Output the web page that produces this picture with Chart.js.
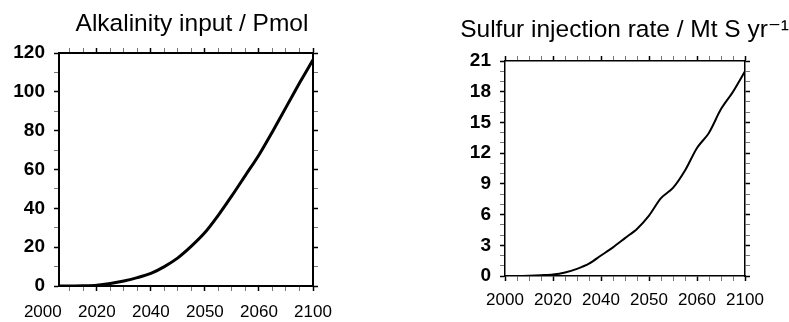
<!DOCTYPE html>
<html>
<head>
<meta charset="utf-8">
<script src="https://cdn.jsdelivr.net/npm/chart.js@4.4.0/dist/chart.umd.min.js"></script>
<style>
  html, body { margin: 0; padding: 0; background: #fff; }
  #page { position: relative; width: 789px; height: 322px; overflow: hidden; }
  .panel { position: absolute; top: 0; height: 322px; }
  #left-panel { left: 0; width: 384px; }
  #right-panel { left: 384px; width: 405px; }
</style>
</head>
<body>
<div id="page">
  <div class="panel" id="left-panel"><canvas id="alkChart"></canvas></div>
  <div class="panel" id="right-panel"><canvas id="sulfurChart"></canvas></div>
</div>
<script>
// x axis ticks (labels as printed on the figure)
const xTickValues = [2000, 2020, 2040, 2060, 2080, 2100];
const xTickLabels = ['2000', '2020', '2040', '2050', '2060', '2100'];

// left panel: alkalinity input (Pmol)
const alkYears = [2006, 2010, 2015, 2020, 2025, 2030, 2035, 2040, 2045, 2050, 2055,
                  2060, 2065, 2070, 2075, 2080, 2085, 2090, 2095, 2100];
const alkValues = [0, 0, 0.1, 0.4, 1.3, 2.6, 4.3, 6.5, 10, 14.5, 20.5,
                   27.5, 36.5, 46.5, 57, 67.5, 79.5, 92, 104.5, 116.5];
const alkYTicks = [0, 20, 40, 60, 80, 100, 120];

// right panel: sulfur injection rate (Mt S / yr)
const sulfurYears = [2000, 2005, 2010, 2015, 2020, 2025, 2030, 2035, 2040, 2045, 2050,
                     2055, 2060, 2065, 2070, 2075, 2080, 2085, 2090, 2095, 2100];
const sulfurValues = [0, 0, 0.03, 0.08, 0.15, 0.35, 0.7, 1.2, 2.0, 2.8, 3.7,
                      4.6, 5.9, 7.6, 8.6, 10.3, 12.5, 14.0, 16.3, 18.0, 20.0];
const sulfurYTicks = [0, 3, 6, 9, 12, 15, 18, 21];

const FONT = "'Liberation Sans', Arial, 'DejaVu Sans', sans-serif";

// majors + minor ticks every minorStep inside the range
function tickBuilder(majors, minorStep) {
    return function(scale) {
        const vals = [];
        for (let v = Math.ceil(scale.min / minorStep) * minorStep; v <= scale.max + 1e-9; v += minorStep) {
            vals.push(Math.round(v * 1000) / 1000);
        }
        majors.forEach(m => { if (!vals.includes(m)) vals.push(m); });
        vals.sort((a, b) => a - b);
        scale.ticks = vals.map(v => ({ value: v, major: majors.includes(v) }));
    };
}

function tickColor(ctx) {
    const s = ctx.scale;
    if (ctx.tick.value < s.min - 1e-9 || ctx.tick.value > s.max + 1e-9) return 'rgba(0,0,0,0)';
    return ctx.tick.major ? '#000' : '#777';
}

function axis(opts) {
    return {
        type: 'linear',
        position: opts.position,
        min: opts.min,
        max: opts.max,
        border: { display: true, color: '#000', width: opts.frame },
        grid: {
            drawOnChartArea: false,
            drawTicks: true,
            tickLength: 5,
            tickColor: tickColor,
            tickWidth: ctx => ctx.tick.major ? 1.5 : 1
        },
        ticks: {
            autoSkip: false,
            maxRotation: 0,
            padding: opts.padding || 0,
            color: '#000',
            font: opts.font || { family: FONT, size: 17 },
            callback: opts.callback || (() => '')
        },
        afterBuildTicks: tickBuilder(opts.majors, opts.minorStep),
        afterFit: function(scale) {
            if (opts.width !== undefined) scale.width = opts.width;
            if (opts.height !== undefined) scale.height = opts.height;
        }
    };
}

function makeChart(canvasId, cfg) {
    const points = cfg.years.map((yr, i) => ({ x: yr, y: cfg.values[i] }));
    const xLabel = (value) => {
        const i = xTickValues.indexOf(value);
        return i >= 0 ? xTickLabels[i] : '';
    };
    const yLabel = (value) => cfg.yTicks.includes(value) ? String(value) : '';

    return new Chart(document.getElementById(canvasId), {
        type: 'line',
        data: {
            datasets: [{
                data: points,
                borderColor: '#000',
                borderWidth: cfg.lineWidth,
                pointRadius: 0,
                tension: 0.3,
                xAxisID: 'x',
                yAxisID: 'y'
            }]
        },
        options: {
            responsive: true,
            maintainAspectRatio: false,
            animation: false,
            layout: { padding: 0 },
            plugins: {
                legend: { display: false },
                tooltip: { enabled: false },
                title: {
                    display: true,
                    text: cfg.title,
                    align: cfg.titleAlign,
                    color: '#000',
                    font: { family: FONT, size: 24.5, weight: 'normal' },
                    padding: { top: cfg.titleTop, bottom: 0 }
                }
            },
            scales: {
                x: axis({ position: 'bottom', min: cfg.xMin, max: 2100, frame: cfg.frame,
                          majors: xTickValues, minorStep: 5, callback: xLabel,
                          padding: cfg.xPad, height: cfg.bottomH }),
                x2: axis({ position: 'top', min: cfg.xMin, max: 2100, frame: cfg.frame,
                           majors: xTickValues, minorStep: 5, height: cfg.topH }),
                y: axis({ position: 'left', min: 0, max: cfg.yMax, frame: cfg.frame,
                          majors: cfg.yTicks, minorStep: cfg.yMinor, callback: yLabel,
                          padding: 9, width: cfg.leftW,
                          font: { family: FONT, size: 19, weight: 'bold' } }),
                y2: axis({ position: 'right', min: 0, max: cfg.yMax, frame: cfg.frame,
                           majors: cfg.yTicks, minorStep: cfg.yMinor, width: cfg.rightW })
            }
        }
    });
}

makeChart('alkChart', {
    title: 'Alkalinity input / Pmol',
    titleAlign: 'center',
    titleTop: 10,
    years: alkYears,
    values: alkValues,
    xMin: 2006,
    yMax: 120,
    yTicks: alkYTicks,
    yMinor: 10,
    lineWidth: 3,
    frame: 2,
    xPad: 11,
    leftW: 59,
    rightW: 71,
    topH: 13.6,
    bottomH: 36
});

makeChart('sulfurChart', {
    title: 'Sulfur injection rate / Mt S yr\u207B\u00B9',
    titleAlign: 'end',
    titleTop: 15.3,
    years: sulfurYears,
    values: sulfurValues,
    xMin: 2000,
    yMax: 21,
    yTicks: sulfurYTicks,
    yMinor: 1,
    lineWidth: 2,
    frame: 1.5,
    xPad: 9,
    leftW: 121,
    rightW: 44,
    topH: 16.3,
    bottomH: 46
});
</script>
</body>
</html>
